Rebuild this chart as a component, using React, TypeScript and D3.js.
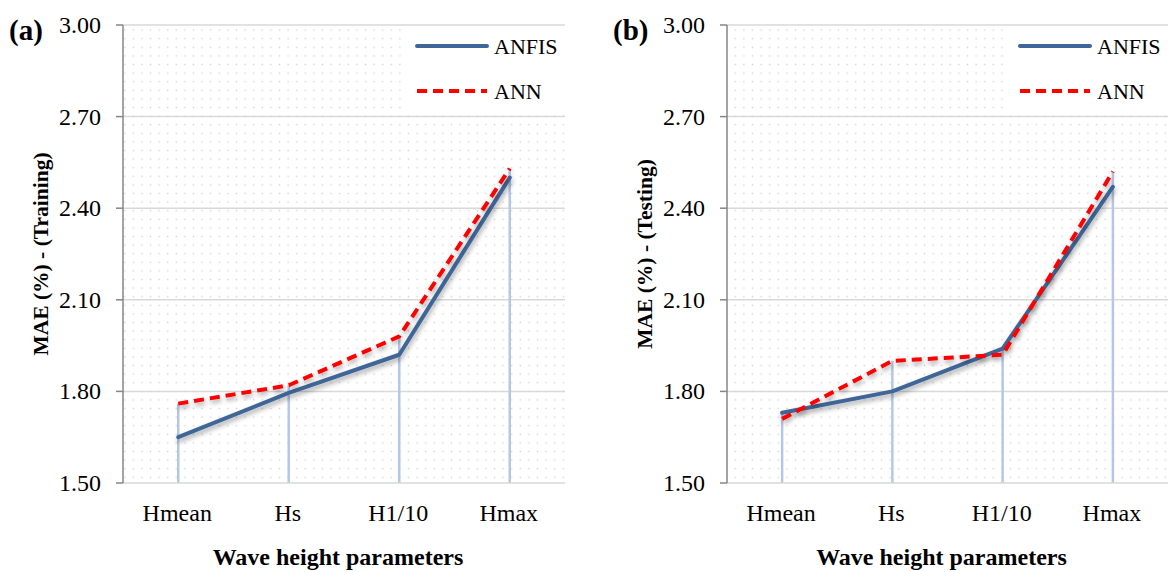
import React from 'react';
import * as d3 from 'd3';

const categories = ['Hmean', 'Hs', 'H1/10', 'Hmax'];
const anfisTraining = [1.65, 1.795, 1.92, 2.5];
const annTraining = [1.76, 1.82, 1.98, 2.53];
const anfisTesting = [1.73, 1.8, 1.94, 2.47];
const annTesting = [1.71, 1.9, 1.92, 2.52];
const yTicks = [1.5, 1.8, 2.1, 2.4, 2.7, 3.0];
const seriesNames = ['ANFIS', 'ANN'];

const FONT = "'Liberation Serif', 'Times New Roman', 'DejaVu Serif', serif";
const BLUE = '#3F6698';
const RED = '#FF0000';

type PanelProps = {
  left: number;
  right: number;
  tag: string;
  yTitle: string;
  anfis: number[];
  ann: number[];
  id: string;
};

const txt = (size: number, bold = false): React.CSSProperties => ({
  fontFamily: FONT,
  fontSize: size,
  fontWeight: bold ? 'bold' : 'normal',
});

const Panel = ({ left, right, tag, yTitle, anfis, ann, id }: PanelProps) => {
  const top = 25, bottom = 483;
  const x = d3.scaleBand<string>().domain(categories).range([left, right]);
  const y = d3.scaleLinear().domain([1.5, 3.0]).range([bottom, top]);
  const cx = (c: string) => (x(c) as number) + x.bandwidth() / 2;
  const line = d3.line<number>()
    .x((_, i) => cx(categories[i]))
    .y((d) => y(d));
  const mid = (left + right) / 2;
  const legX = right - 148;

  return (
    <g>
      <rect x={left} y={top} width={right - left} height={bottom - top} fill={`url(#dots-${id})`} />
      {yTicks.slice(1).map((t) => (
        <line key={t} x1={left} x2={right} y1={y(t)} y2={y(t)} stroke="#D9D9D9" strokeWidth={1.5} />
      ))}
      {/* drop lines */}
      {categories.map((c, i) => (
        <line key={c} x1={cx(c)} x2={cx(c)} y1={y(Math.max(anfis[i], ann[i]))} y2={bottom}
          stroke="#B4C7E7" strokeWidth={2.5} />
      ))}
      <line x1={left} x2={right} y1={bottom} y2={bottom} stroke="#D9D9D9" strokeWidth={1.5} />
      <line x1={left} x2={left} y1={top} y2={bottom} stroke="#868686" strokeWidth={1.5} />
      {yTicks.map((t) => (
        <g key={t}>
          <line x1={left - 7} x2={left} y1={y(t)} y2={y(t)} stroke="#868686" strokeWidth={1.5} />
          <text x={left - 22} y={y(t) + 8} textAnchor="end" style={txt(24)}>{t.toFixed(2)}</text>
        </g>
      ))}
      {categories.map((c) => (
        <text key={c} x={cx(c) - 1} y={521} textAnchor="middle" style={txt(24)}>{c}</text>
      ))}
      <path d={line(anfis) || ''} fill="none" stroke={BLUE} strokeWidth={4} strokeLinejoin="round"
        strokeLinecap="round" filter={`url(#shadow-${id})`} />
      <path d={line(ann) || ''} fill="none" stroke={RED} strokeWidth={4} strokeDasharray="10 6"
        strokeLinejoin="round" filter={`url(#shadow-${id})`} />
      {/* legend */}
      <rect x={legX - 12} y={top + 1} width={right - legX + 12} height={88} fill="#fff" />
      <line x1={legX} x2={legX + 70} y1={46} y2={46} stroke={BLUE} strokeWidth={4} strokeLinecap="round" />
      <text x={legX + 77} y={54} style={txt(22)}>{seriesNames[0]}</text>
      <line x1={legX} x2={legX + 70} y1={91} y2={91} stroke={RED} strokeWidth={4} strokeDasharray="10 6" />
      <text x={legX + 77} y={99} style={txt(22)}>{seriesNames[1]}</text>
      {/* titles */}
      <text x={left - 114} y={40} style={txt(29, true)}>{tag}</text>
      <text transform={`translate(${left - 75},${(top + bottom) / 2}) rotate(-90)`} textAnchor="middle"
        style={txt(21.5, true)}>{yTitle}</text>
      <text x={mid - 6} y={565} textAnchor="middle" style={txt(24, true)}>
        Wave height parameters
      </text>
    </g>
  );
};

const App = () => {
  const defs = ['a', 'b'].map((id) => (
    <React.Fragment key={id}>
      <pattern id={`dots-${id}`} width={8.6} height={8.6} patternUnits="userSpaceOnUse">
        <rect x={3.6} y={3.6} width={1.4} height={1.4} fill="#D2D2D2" />
      </pattern>
      <filter id={`shadow-${id}`} x="-10%" y="-10%" width="120%" height="130%">
        <feDropShadow dx={1} dy={3} stdDeviation={2.5} floodColor="#000" floodOpacity={0.35} />
      </filter>
    </React.Fragment>
  ));
  return (
    <svg width={1170} height={572} style={{ position: 'absolute', left: 0, top: 0, background: '#fff' }}>
      <defs>{defs}</defs>
      <Panel id="a" left={123} right={565} tag="(a)" yTitle="MAE (%) - (Training)" anfis={anfisTraining} ann={annTraining} />
      <Panel id="b" left={727} right={1168} tag="(b)" yTitle="MAE (%) - (Testing)" anfis={anfisTesting} ann={annTesting} />
    </svg>
  );
};

export default App;
